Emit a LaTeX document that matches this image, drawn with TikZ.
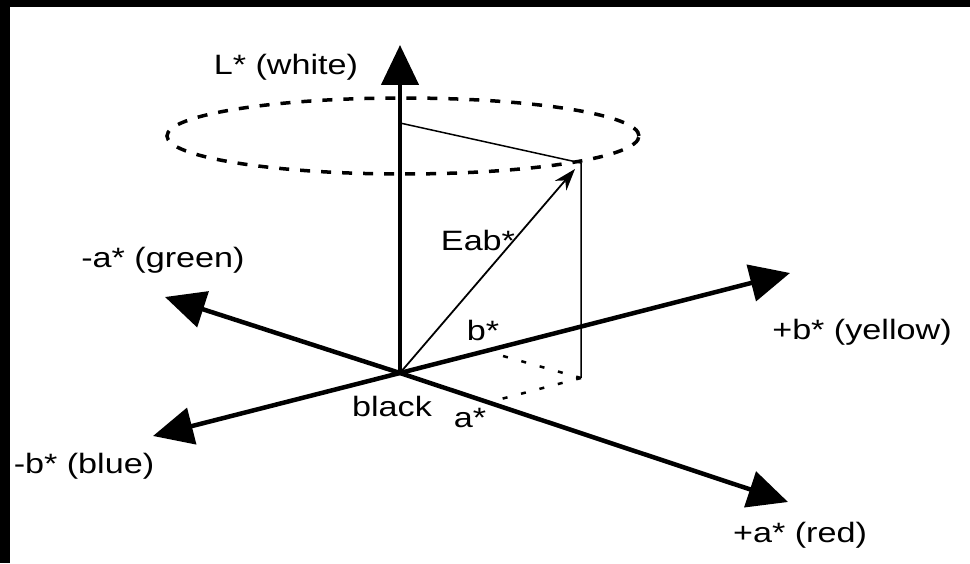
\documentclass[tikz,border=0pt]{standalone}
\usepackage{fontspec}
\setmainfont{Liberation Sans}
\usetikzlibrary{arrows.meta}

\begin{document}
\begin{tikzpicture}[
  x=1pt, y=1pt,
  font=\fontsize{28}{32}\selectfont,
  lbl/.style={inner sep=0pt, xscale=1.22},
  axis/.style={line width=4.5pt, -{Triangle[length=40pt,width=37pt]}},
  thinline/.style={line width=1.5pt},
  vecarrow/.style={line width=1.8pt, -{Stealth[length=22pt,width=15pt,inset=7pt]}},
  proj/.style={line width=2.5pt, dash pattern=on 5pt off 14pt},
  hue/.style={line width=3.5pt, dash pattern=on 10pt off 11pt}
]
\useasboundingbox (0,0) rectangle (970,563);

% Frame
\fill[black] (0,0) rectangle (10,563);
\fill[black] (0,556) rectangle (970,563);

% Points
\coordinate (origin) at (400,190);
\coordinate (Ltip) at (400,518);
\coordinate (bplus) at (790,290);
\coordinate (aminus) at (165,266);
\coordinate (bminus) at (153,127);
\coordinate (aplus) at (788,61);
\coordinate (hcentre) at (403,427);
\coordinate (Lfoot) at (400,440);
\coordinate (ptop) at (581,400);
\coordinate (pbot) at (581,185);
\coordinate (vtip) at (575,394);
\coordinate (bproj) at (503,207);
\coordinate (aproj) at (501,164);

% Hue circle
\draw[hue] (hcentre) ellipse [x radius=236pt, y radius=38pt];

% Axes
\draw[axis] (origin) -- (Ltip);
\draw[axis] (origin) -- (bplus);
\draw[axis] (origin) -- (aminus);
\draw[axis] (origin) -- (bminus);
\draw[axis] (origin) -- (aplus);

% Colour vector
\draw[thinline] (Lfoot) -- (ptop) -- (pbot);
\draw[vecarrow] (origin) -- (vtip);
\draw[proj] (pbot) -- (bproj);
\draw[proj] (pbot) -- (aproj);

% Labels
\node[lbl] (Llbl) at (286,496) {L* (white)};
\node[lbl] (amlbl) at (163,303) {-a* (green)};
\node[lbl] (bmlbl) at (84,97) {-b* (blue)};
\node[lbl] (bplbl) at (862,231) {+b* (yellow)};
\node[lbl] (aplbl) at (800,28) {+a* (red)};
\node[lbl] (eablbl) at (478,323) {Eab*};
\node[lbl] (blbl) at (483,233) {b*};
\node[lbl] (albl) at (470,145) {a*};
\node[lbl] (blacklbl) at (392,157) {black};

\end{tikzpicture}
\end{document}
